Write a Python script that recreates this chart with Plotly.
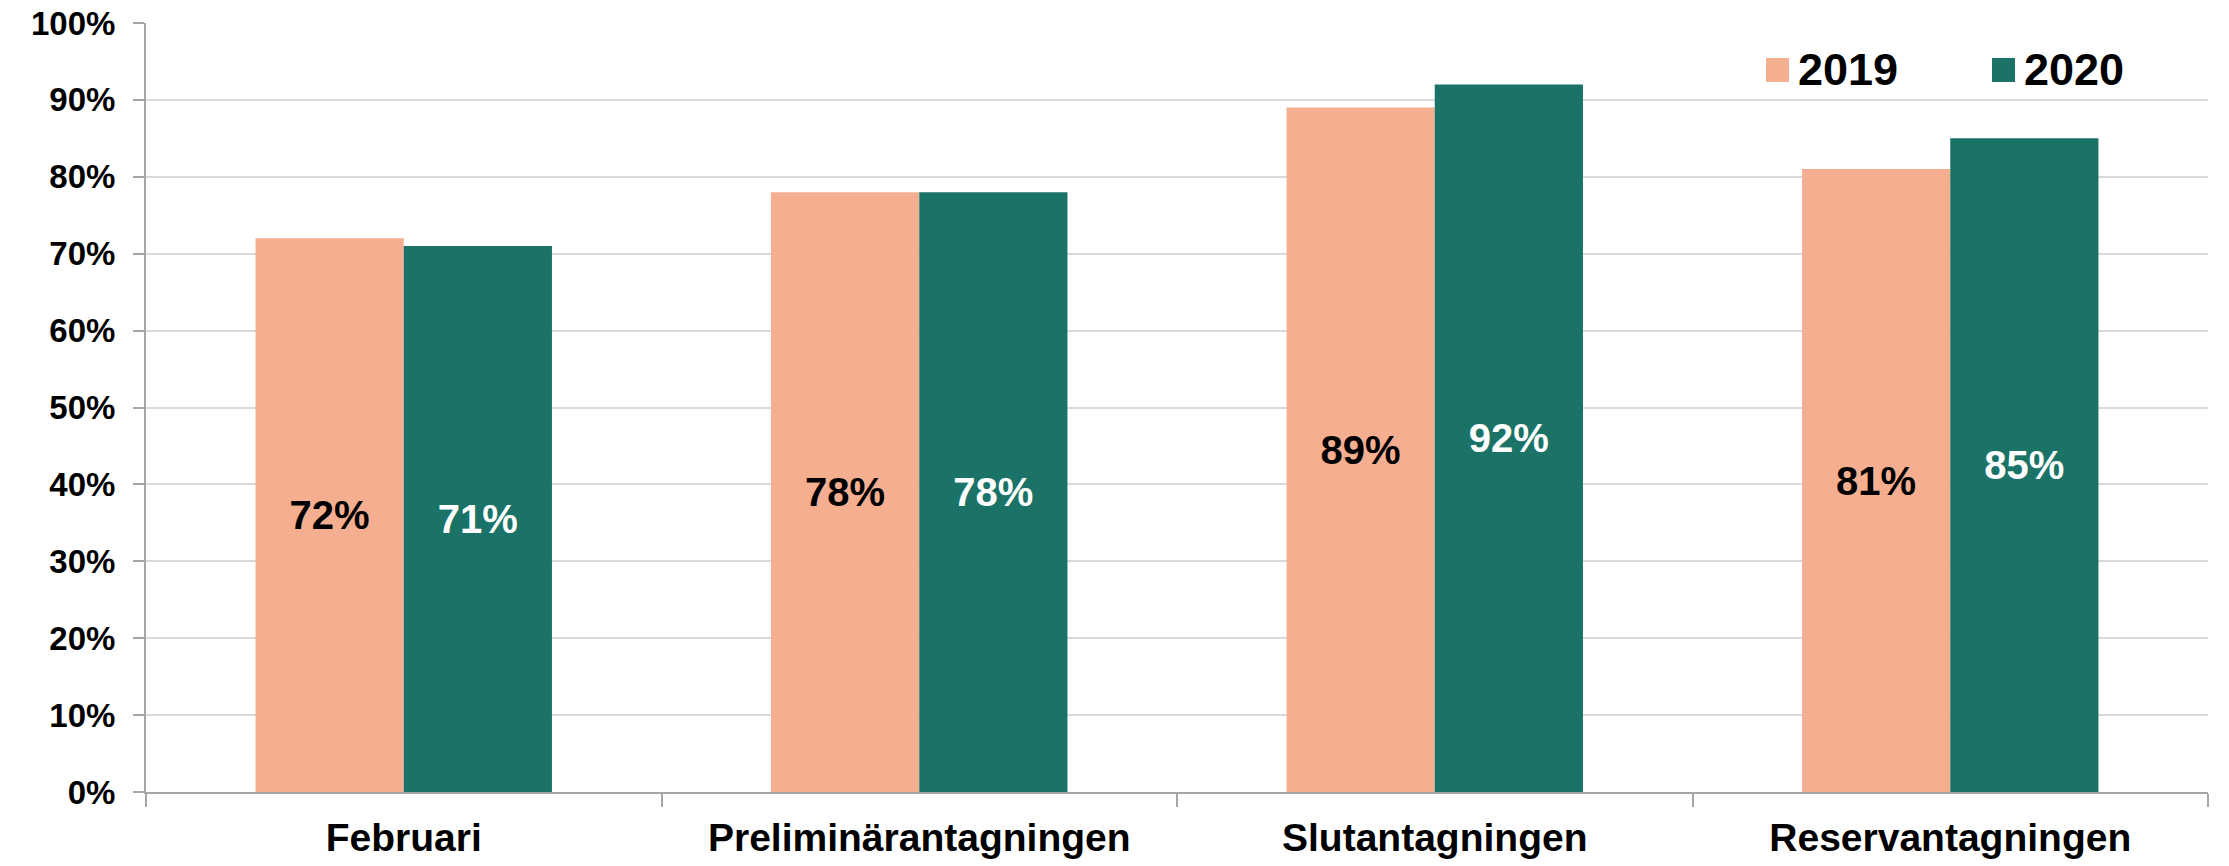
import plotly.graph_objects as go

categories = ["Februari", "Preliminärantagningen", "Slutantagningen", "Reservantagningen"]
series_names = ["2019", "2020"]
values_2019 = [0.72, 0.78, 0.89, 0.81]
values_2020 = [0.71, 0.78, 0.92, 0.85]
y_ticks = [0.0, 0.1, 0.2, 0.3, 0.4, 0.5, 0.6, 0.7, 0.8, 0.9, 1.0]

colors = ["#F6AE91", "#1B7367"]
label_colors = ["#000000", "#FFFFFF"]
FONT = "Liberation Sans, Arial, sans-serif"

W, H = 2229, 866
ML, MR, MT, MB = 146, 21, 23, 74
PW = W - ML - MR
PH = H - MT - MB

fig = go.Figure()
for name, vals, col, lcol in zip(series_names, [values_2019, values_2020], colors, label_colors):
    fig.add_trace(go.Bar(
        x=categories, y=vals, name=name,
        marker=dict(color=col, line=dict(width=0)),
        texttemplate="%{y:.0%}",
        textposition="inside",
        insidetextanchor="middle",
        textangle=0,
        constraintext="none",
        textfont=dict(family=FONT, size=40, color=lcol, weight="bold"),
        showlegend=False,
        hoverinfo="x+y",
    ))

# legend drawn as shapes + annotations from series names/colors
leg_x0_px = 1766
leg_step_px = 226
sq_w, sq_h = 23, 24
leg_yc_px = 70
for i, (name, col) in enumerate(zip(series_names, colors)):
    x0 = leg_x0_px + i * leg_step_px
    fig.add_shape(type="rect", xref="paper", yref="paper",
                  x0=(x0 - ML) / PW, x1=(x0 + sq_w - ML) / PW,
                  y0=(H - MB - (leg_yc_px + sq_h / 2)) / PH,
                  y1=(H - MB - (leg_yc_px - sq_h / 2)) / PH,
                  fillcolor=col, line=dict(width=0), layer="above")
    fig.add_annotation(xref="paper", yref="paper",
                       x=(x0 + sq_w + 7 - ML) / PW,
                       y=(H - MB - leg_yc_px) / PH,
                       xanchor="left", yanchor="middle", showarrow=False,
                       text=name,
                       font=dict(family=FONT, size=45, color="#000000", weight="bold"))

fig.update_layout(
    width=W, height=H,
    margin=dict(l=ML, r=MR, t=MT, b=MB, pad=0, autoexpand=False),
    paper_bgcolor="white", plot_bgcolor="white",
    barmode="group", bargap=0.425, bargroupgap=0,
    showlegend=False,
    font=dict(family=FONT, color="#000000"),
)
fig.update_yaxes(
    range=[0, 1], tickvals=y_ticks, tickformat=".0%",
    automargin=False,
    showgrid=True, gridcolor="#D9D9D9", gridwidth=1.5,
    showline=True, linecolor="#A6A6A6", linewidth=2,
    ticks="outside", ticklen=11, tickcolor="#A6A6A6", tickwidth=1.5,
    ticklabelstandoff=11,
    tickfont=dict(family=FONT, size=33, color="#000000", weight="bold"),
    zeroline=False,
)
fig.update_xaxes(
    type="category", tickson="boundaries",
    automargin=False,
    showline=True, linecolor="#A6A6A6", linewidth=2,
    ticks="outside", ticklen=13, tickcolor="#A6A6A6", tickwidth=1.5,
    ticklabelstandoff=10,
    tickfont=dict(family=FONT, size=39, color="#000000", weight="bold"),
    showgrid=False,
)

fig.write_html(
    "out.html",
    config={"displayModeBar": False},
    post_script="document.body.style.margin='0px';document.body.style.overflow='hidden';",
)
